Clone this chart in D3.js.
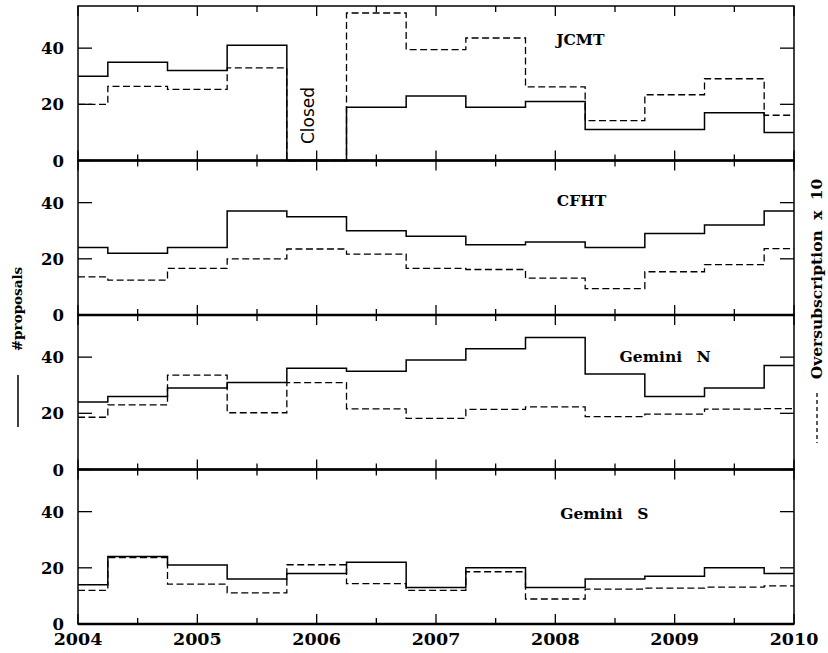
<!DOCTYPE html>
<html>
<head>
<meta charset="utf-8">
<script src="https://cdn.jsdelivr.net/npm/d3@7"></script>
<style>
  body { margin: 0; background: #fff; }
  svg { display: block; }
  text { font-family: "DejaVu Serif", serif; fill: #000; }
</style>
</head>
<body>
<svg id="chart" width="828" height="653"></svg>
<script>
// semester bin edges (first and last are half bins)
var edges = [2004, 2004.25, 2004.75, 2005.25, 2005.75, 2006.25, 2006.75,
             2007.25, 2007.75, 2008.25, 2008.75, 2009.25, 2009.75, 2010];
var telescopes = ["JCMT", "CFHT", "Gemini N", "Gemini S"];
var yearTicks = [2004, 2005, 2006, 2007, 2008, 2009, 2010];
var yTicks = [0, 20, 40];

// number of proposals per semester
var propJCMT = [30, 35, 32, 41, 0, 19, 23, 19, 21, 11, 11, 17, 10];
var propCFHT = [24, 22, 24, 37, 35, 30, 28, 25, 26, 24, 29, 32, 37];
var propGemN = [24, 26, 29, 31, 36, 35, 39, 43, 47, 34, 26, 29, 37];
var propGemS = [14, 24, 21, 16, 18, 22, 13, 20, 13, 16, 17, 20, 18];

// oversubscription x 10
var overJCMT = [20, 26.4, 25.3, 33, 0, 52.5, 39.5, 43.6, 26.2, 14.2, 23.4, 29.1, 16.1];
var overCFHT = [13.6, 12.4, 16.6, 20, 23.5, 21.7, 16.6, 16.2, 13.1, 9.4, 15.4, 17.9, 23.6];
var overGemN = [18.6, 23, 33.6, 20.2, 30.9, 21.6, 18.2, 21.4, 22.3, 18.8, 19.7, 21.5, 21.7];
var overGemS = [12, 23.6, 14.2, 11.1, 21.1, 14.4, 12, 18.6, 8.9, 12.4, 12.8, 13.1, 13.6];

var proposals = [propJCMT, propCFHT, propGemN, propGemS];
var oversub = [overJCMT, overCFHT, overGemN, overGemS];

// label positions in data units (year, value)
var labelPos = [[2008.21, 43], [2008.22, 40.5], [2008.92, 40], [2008.41, 39]];

var svg = d3.select("#chart");
var plotL = 78, plotR = 794, plotT = 6, plotB = 624;
var panelH = (plotB - plotT) / 4;

var x = d3.scaleLinear().domain([2004, 2010]).range([plotL, plotR]);
var halfYears = d3.range(2004, 2010.01, 0.5);

var line = d3.line()
    .x(function(d) { return x(d[0]); })
    .y(function(d) { return d[1]; })
    .curve(d3.curveStepAfter);

function stepPoints(vals, y) {
  var pts = [];
  for (var i = 0; i < vals.length; i++) pts.push([edges[i], y(vals[i])]);
  pts.push([edges[edges.length - 1], y(vals[vals.length - 1])]);
  return pts;
}

telescopes.forEach(function(name, p) {
  var y0 = plotT + panelH * (p + 1), y1 = plotT + panelH * p;
  var y = d3.scaleLinear().domain([0, 55]).range([y0, y1]);
  var g = svg.append("g");

  // data lines
  g.append("path")
    .attr("d", line(stepPoints(oversub[p], y)))
    .attr("fill", "none").attr("stroke", "#000")
    .attr("stroke-width", 1.3).attr("stroke-dasharray", "7,3.5");
  g.append("path")
    .attr("d", line(stepPoints(proposals[p], y)))
    .attr("fill", "none").attr("stroke", "#000")
    .attr("stroke-width", 1.5);

  // frame
  g.append("rect")
    .attr("x", plotL).attr("y", y1)
    .attr("width", plotR - plotL).attr("height", panelH)
    .attr("fill", "none").attr("stroke", "#000").attr("stroke-width", 1.5);
  g.append("line")
    .attr("x1", plotL).attr("x2", plotR).attr("y1", y0).attr("y2", y0)
    .attr("stroke", "#000").attr("stroke-width", 2.5);

  // x ticks, top and bottom
  halfYears.forEach(function(t) {
    var len = (t % 1 === 0) ? 10 : 6;
    g.append("line").attr("x1", x(t)).attr("x2", x(t))
      .attr("y1", y0).attr("y2", y0 - len)
      .attr("stroke", "#000").attr("stroke-width", 1.3);
    g.append("line").attr("x1", x(t)).attr("x2", x(t))
      .attr("y1", y1).attr("y2", y1 + len)
      .attr("stroke", "#000").attr("stroke-width", 1.3);
  });

  // y ticks left & right
  yTicks.forEach(function(v) {
    g.append("line").attr("x1", plotL).attr("x2", plotL + 14)
      .attr("y1", y(v)).attr("y2", y(v))
      .attr("stroke", "#000").attr("stroke-width", 1.3);
    g.append("line").attr("x1", plotR - 14).attr("x2", plotR)
      .attr("y1", y(v)).attr("y2", y(v))
      .attr("stroke", "#000").attr("stroke-width", 1.3);
    g.append("text")
      .attr("x", plotL - 14).attr("y", y(v) + 6)
      .attr("text-anchor", "end")
      .attr("font-size", 16.5).attr("font-weight", "bold")
      .text(v);
  });

  g.append("text")
    .attr("x", x(labelPos[p][0])).attr("y", y(labelPos[p][1]) + 5)
    .attr("text-anchor", "middle")
    .attr("font-size", 15.5).attr("font-weight", "bold")
    .attr("word-spacing", "9px")
    .text(name);

  if (p === 0) {
    g.append("text")
      .attr("transform", "translate(" + (x(2006) - 3) + "," + y(16) + ") rotate(-90)")
      .attr("text-anchor", "middle")
      .style("font-family", "'DejaVu Sans', sans-serif")
      .attr("font-size", 17)
      .text("Closed");
  }
});

// x labels
yearTicks.forEach(function(t) {
  svg.append("text")
    .attr("x", x(t)).attr("y", 645)
    .attr("text-anchor", "middle")
    .attr("font-size", 17.5).attr("font-weight", "bold")
    .text(t);
});

// left title
svg.append("line")
  .attr("x1", 18).attr("x2", 18).attr("y1", 375).attr("y2", 427)
  .attr("stroke", "#000").attr("stroke-width", 1.5);
svg.append("text")
  .attr("transform", "translate(22,309) rotate(-90)")
  .attr("text-anchor", "middle")
  .attr("font-size", 13.5).attr("font-weight", "bold")
  .text("#proposals");

// right title
svg.append("line")
  .attr("x1", 817).attr("x2", 817).attr("y1", 393).attr("y2", 443)
  .attr("stroke", "#000").attr("stroke-width", 1.3)
  .attr("stroke-dasharray", "4,3");
svg.append("text")
  .attr("transform", "translate(822,279) rotate(-90)")
  .attr("text-anchor", "middle")
  .attr("font-size", 15.5).attr("font-weight", "bold")
  .attr("word-spacing", "5px")
  .text("Oversubscription x 10");
</script>
</body>
</html>
